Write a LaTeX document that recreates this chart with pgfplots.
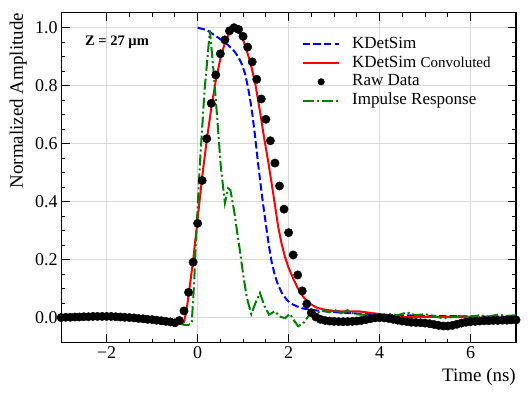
\documentclass[border=0pt]{standalone}
\usepackage{fontspec}
\setmainfont{Liberation Serif}
\usepackage{pgfplots}
\pgfplotsset{compat=1.18}

\begin{document}
\begin{tikzpicture}
\begin{axis}[
    scale only axis,
    width=455bp, height=330.3bp,
    xmin=-3, xmax=7, ymin=-0.0872, ymax=1.0517,
    xtick={-2,0,2,4,6}, xticklabels={−2,0,2,4,6},
    ytick={0,0.2,0.4,0.6,0.8,1.0}, yticklabels={0.0,0.2,0.4,0.6,0.8,1.0},
    minor x tick num=3, minor y tick num=3,
    tick pos=both, tick align=inside,
    major tick length=8.5bp, minor tick length=4.3bp,
    every tick/.style={black, line width=1bp},
    axis line style={line width=1.1bp},
    grid=major,
    major grid style={black!15, line width=0.9bp},
    ticklabel style={font=\fontsize{18bp}{20bp}\selectfont},
    label style={font=\fontsize{19bp}{21bp}\selectfont},
    xlabel={Time (ns)},
    ylabel={Normalized Amplitude},
    xlabel style={at={(rel axis cs:1,-0.1172)}, anchor=base east, inner sep=0pt},
    ylabel style={at={(rel axis cs:-0.0747,1)}, anchor=south east, inner sep=0pt},
    legend cell align=left,
    legend style={draw=none, fill=none, inner sep=0pt,
        at={(rel axis cs:0.5286,0.9286)}, anchor=north west,
        font=\fontsize{17bp}{19bp}\selectfont,
        nodes={inner sep=0pt, text height=12bp, text depth=4bp},
        row sep=2.7bp,
        /tikz/every odd column/.append style={column sep=11.7bp}},
    legend image code/.code={\draw[mark repeat=2,mark phase=2] plot coordinates {(0bp,0bp) (18.35bp,0bp) (36.7bp,0bp)};},
    clip=true,
]
% KDetSim
\addplot[blue, line width=2bp, dash pattern=on 7.4bp off 3.2bp] table {
0    1.000
0.20 0.992
0.42 0.969
0.55 0.955
0.67 0.940
0.80 0.920
0.89 0.900
0.97 0.875
1.04 0.843
1.10 0.800
1.15 0.757
1.20 0.705
1.26 0.630
1.33 0.530
1.38 0.465
1.44 0.390
1.52 0.300
1.57 0.245
1.63 0.190
1.70 0.145
1.77 0.112
1.86 0.083
1.96 0.061
2.07 0.047
2.18 0.039
2.30 0.032
2.47 0.027
2.70 0.023
3.00 0.019
3.50 0.014
4.00 0.010
5.00 0.006
6.00 0.004
7.00 0.003
};
\addlegendentry{KDetSim}
% KDetSim convoluted
\addplot[red, line width=2bp] table {
-0.45 -0.020
-0.35 -0.022
-0.30 -0.015
-0.25 0.020
-0.20 0.075
-0.10 0.195
0.00 0.340
0.10 0.485
0.20 0.612
0.30 0.722
0.40 0.818
0.50 0.893
0.60 0.948
0.70 0.984
0.80 1.000
0.90 0.990
1.00 0.958
1.10 0.910
1.15 0.885
1.26 0.814
1.37 0.712
1.46 0.622
1.55 0.540
1.66 0.430
1.77 0.314
1.85 0.252
1.92 0.210
2.00 0.172
2.10 0.135
2.20 0.102
2.32 0.072
2.45 0.050
2.62 0.034
2.80 0.027
3.05 0.022
3.57 0.021
4.00 0.012
4.45 0.002
5.00 0.002
5.47 0.003
6.05 0.000
7.00 -0.001
};
\addlegendentry{KDetSim {\fontsize{15bp}{17bp}\selectfont Convoluted}}
% raw data
\addplot[only marks, mark=*, mark size=4.2bp, black,
    legend image post style={mark size=3.3bp}] table {
-3.0 0.000
-2.9 0.001
-2.8 0.001
-2.7 0.002
-2.6 0.002
-2.5 0.003
-2.4 0.003
-2.3 0.004
-2.2 0.004
-2.1 0.004
-2.0 0.004
-1.9 0.004
-1.8 0.003
-1.7 0.002
-1.6 0.001
-1.5 0.000
-1.4 -0.001
-1.3 -0.003
-1.2 -0.004
-1.1 -0.006
-1.0 -0.007
-0.9 -0.009
-0.8 -0.011
-0.7 -0.013
-0.6 -0.015
-0.5 -0.018
-0.4 -0.010
-0.3 0.023
-0.2 0.087
-0.1 0.191
0.0 0.325
0.1 0.473
0.2 0.617
0.3 0.739
0.4 0.837
0.5 0.910
0.6 0.958
0.7 0.989
0.8 1.000
0.9 0.994
1.0 0.970
1.1 0.933
1.2 0.882
1.3 0.822
1.4 0.754
1.5 0.684
1.6 0.610
1.7 0.533
1.8 0.454
1.9 0.374
2.0 0.293
2.1 0.216
2.2 0.147
2.3 0.092
2.4 0.047
2.5 0.017
2.6 0.002
2.7 -0.006
2.8 -0.010
2.9 -0.012
3.0 -0.013
3.1 -0.014
3.2 -0.014
3.3 -0.014
3.4 -0.013
3.5 -0.012
3.6 -0.010
3.7 -0.007
3.8 -0.004
3.9 -0.001
4.0 0.000
4.1 -0.001
4.2 -0.003
4.3 -0.006
4.4 -0.009
4.5 -0.012
4.6 -0.014
4.7 -0.016
4.8 -0.017
4.9 -0.018
5.0 -0.019
5.1 -0.021
5.2 -0.024
5.3 -0.027
5.4 -0.029
5.5 -0.029
5.6 -0.027
5.7 -0.023
5.8 -0.019
5.9 -0.016
6.0 -0.014
6.1 -0.013
6.2 -0.012
6.3 -0.011
6.4 -0.011
6.5 -0.010
6.6 -0.010
6.7 -0.009
6.8 -0.009
6.9 -0.008
7.0 -0.008
};
\addlegendentry{Raw Data}
% impulse response
\addplot[green!50!black, line width=2bp, dash pattern=on 11bp off 3bp on 2bp off 3bp] table {
-0.40 -0.020
-0.30 -0.025
-0.20 -0.025
-0.13 -0.020
-0.08 0.110
-0.03 0.290
0.05 0.530
0.15 0.780
0.27 0.990
0.35 0.850
0.43 0.690
0.51 0.520
0.60 0.395
0.67 0.446
0.72 0.440
0.80 0.370
0.93 0.230
1.00 0.150
1.08 0.070
1.18 0.012
1.27 0.050
1.37 0.085
1.47 0.040
1.57 0.010
1.70 0.022
1.80 0.004
1.92 -0.002
2.03 0.013
2.12 -0.010
2.21 -0.030
2.32 -0.020
2.45 0.008
2.60 0.015
2.75 0.025
2.90 0.018
3.00 0.028
3.15 0.015
3.30 0.025
3.45 0.012
3.60 0.010
3.80 0.008
4.00 0.005
4.20 0.012
4.40 0.008
4.60 0.018
4.80 0.008
5.00 0.012
5.20 0.005
5.40 -0.003
5.60 0.002
5.80 0.006
6.00 0.003
6.20 0.008
6.40 0.004
6.60 0.010
6.80 0.006
7.00 0.008
};
\addlegendentry{Impulse Response}
\node[anchor=base west, inner sep=0pt, font=\bfseries\fontsize{14.5bp}{16bp}\selectfont]
    at (rel axis cs:0.0523,0.900) {Z = 27 µm};
\end{axis}
\path ([xshift=-61.2bp,yshift=-56bp]current axis.south west) rectangle ([xshift=13bp,yshift=12.7bp]current axis.north east);
\end{tikzpicture}
\end{document}
